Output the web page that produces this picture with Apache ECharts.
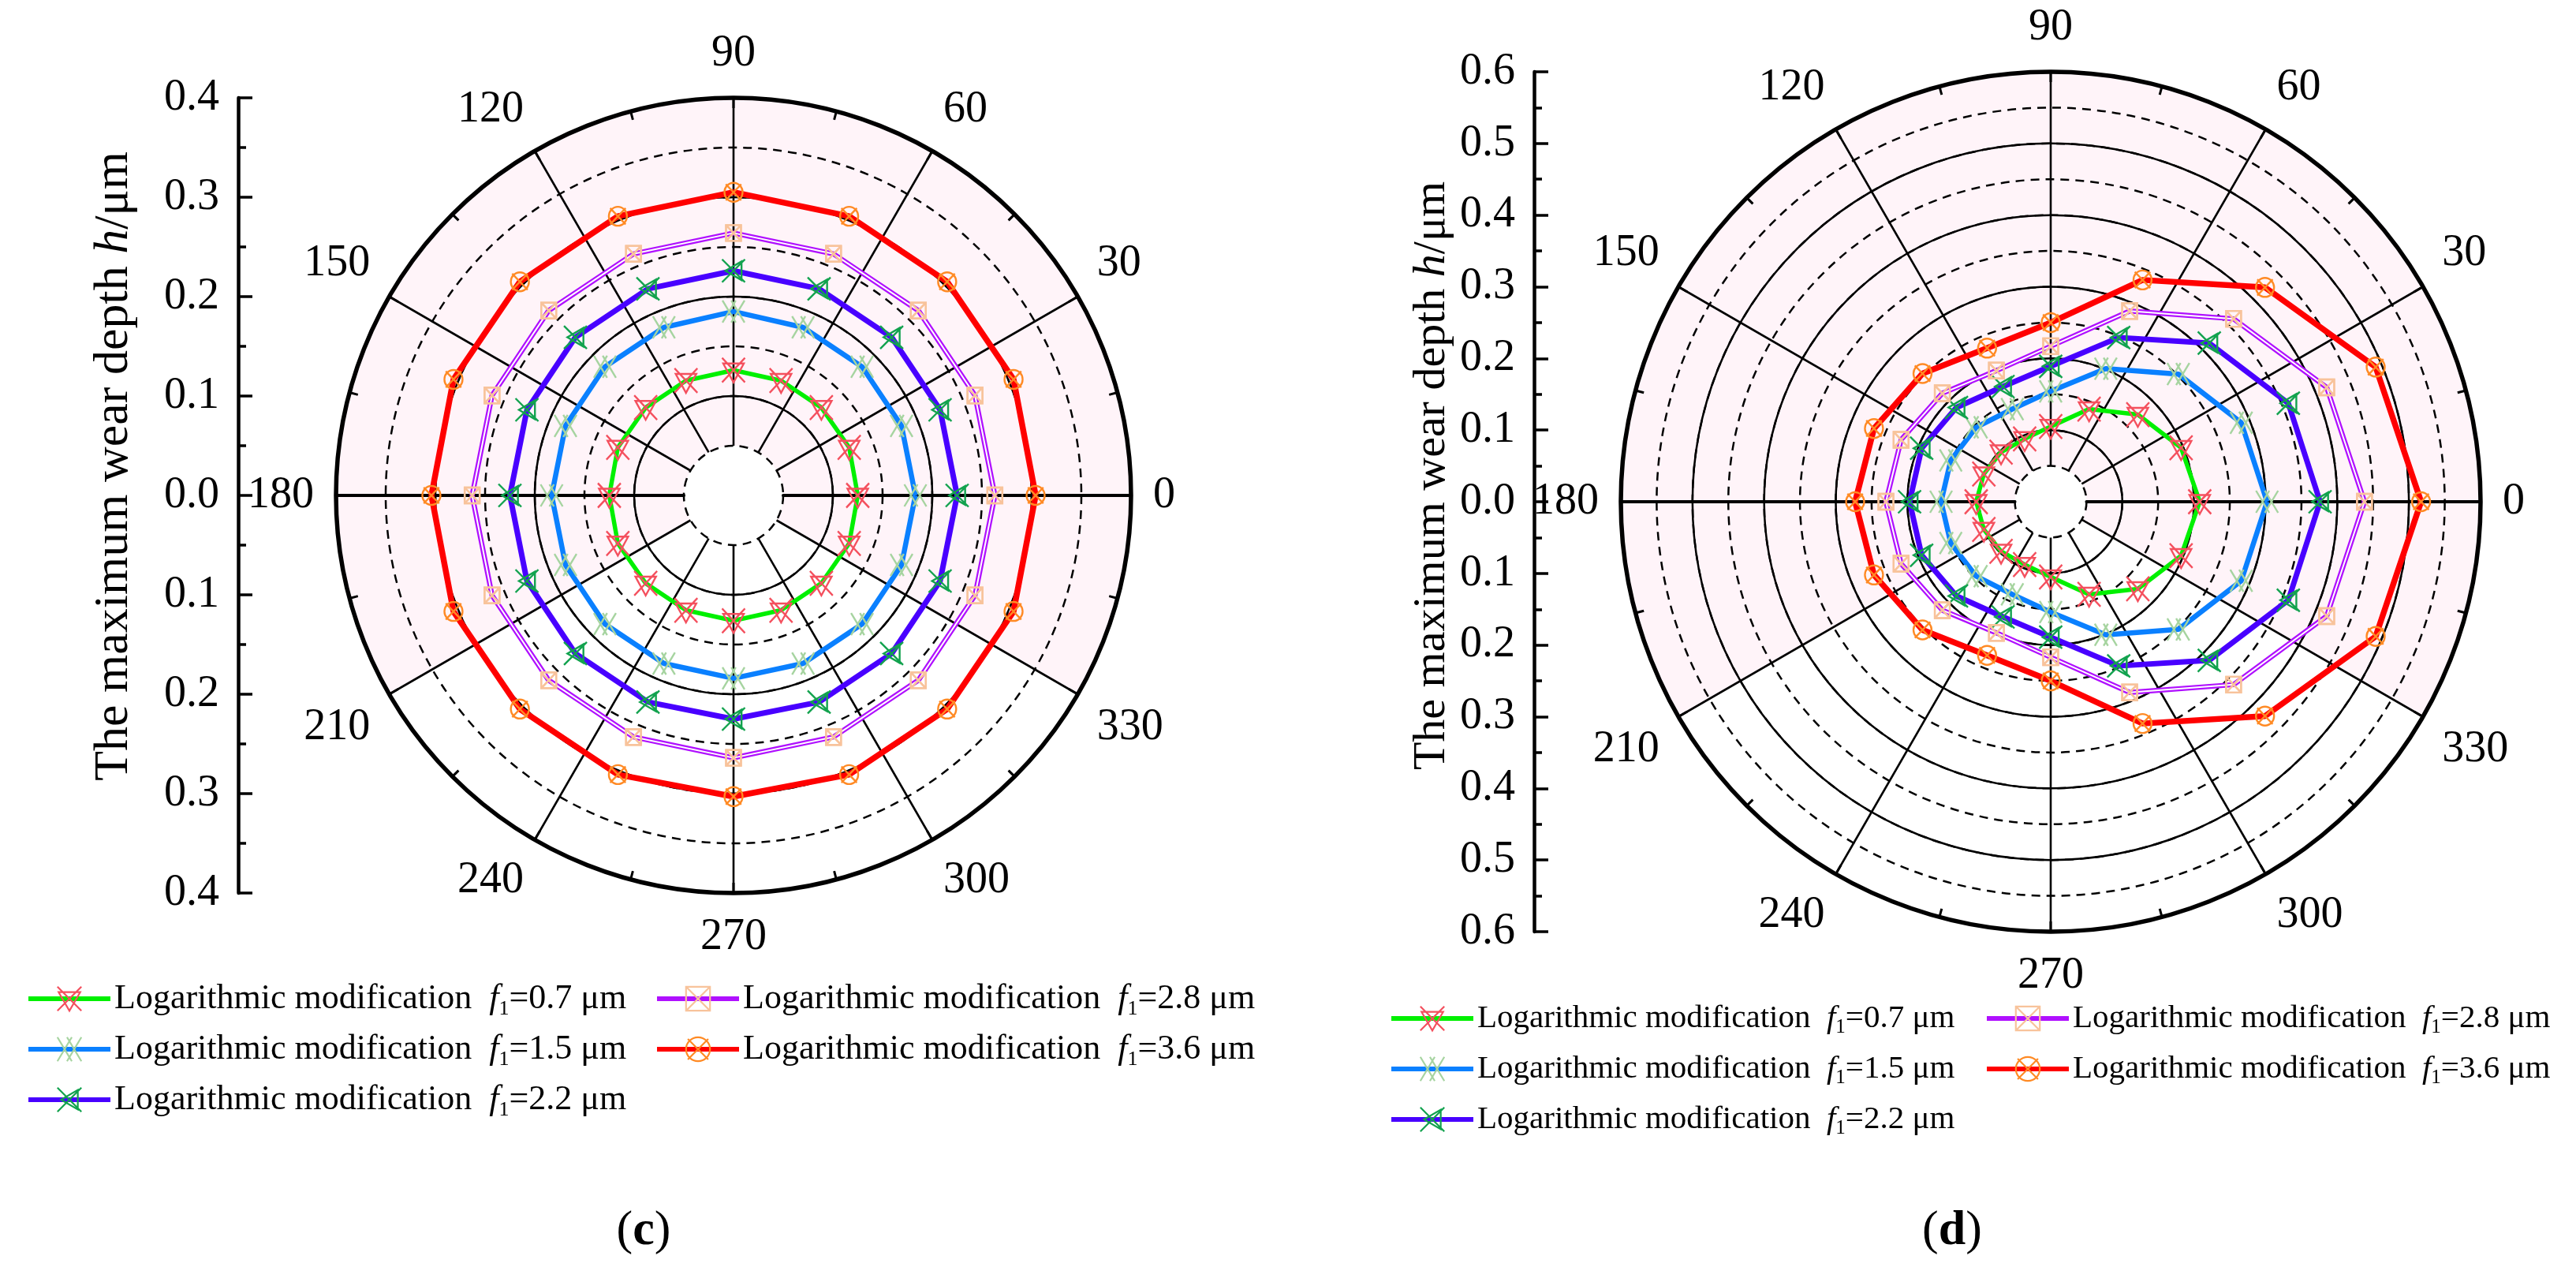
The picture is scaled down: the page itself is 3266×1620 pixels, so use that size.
<!DOCTYPE html>
<html>
<head>
<meta charset="utf-8">
<title>Maximum wear depth - polar</title>
<script src="https://cdn.jsdelivr.net/npm/echarts@6/dist/echarts.min.js"></script>
<style>
  html, body { margin: 0; padding: 0; background: #fff; }
  #main { width: 3266px; height: 1620px; }
</style>
</head>
<body>
<div id="main"></div>
<script>
var SERIF = '"Liberation Serif", "Times New Roman", serif';

// measuring angle of every point, degrees
var angles = [0, 22.5, 45, 67.5, 90, 112.5, 135, 157.5, 180, 202.5, 225, 247.5, 270, 292.5, 315, 337.5];

// legend / series names
var names = [
  'Logarithmic modification f1=0.7 μm',
  'Logarithmic modification f1=1.5 μm',
  'Logarithmic modification f1=2.2 μm',
  'Logarithmic modification f1=2.8 μm',
  'Logarithmic modification f1=3.6 μm'
];

// (c) maximum wear depth h (μm)
var depthC07 = [0.125, 0.126, 0.125, 0.125, 0.126, 0.125, 0.125, 0.126, 0.125, 0.126, 0.125, 0.125, 0.126, 0.125, 0.125, 0.126];
var depthC15 = [0.183, 0.183, 0.183, 0.183, 0.185, 0.183, 0.183, 0.183, 0.183, 0.183, 0.183, 0.183, 0.184, 0.183, 0.183, 0.183];
var depthC22 = [0.225, 0.225, 0.225, 0.225, 0.226, 0.225, 0.225, 0.225, 0.225, 0.225, 0.225, 0.225, 0.225, 0.225, 0.225, 0.225];
var depthC28 = [0.263, 0.263, 0.263, 0.263, 0.264, 0.263, 0.263, 0.263, 0.263, 0.263, 0.263, 0.263, 0.264, 0.263, 0.263, 0.263];
var depthC36 = [0.304, 0.305, 0.304, 0.304, 0.305, 0.304, 0.304, 0.305, 0.304, 0.305, 0.304, 0.304, 0.303, 0.304, 0.304, 0.305];

// (d) maximum wear depth h (μm)
var depthD07 = [0.208, 0.197, 0.172, 0.140, 0.105, 0.095, 0.098, 0.101, 0.104, 0.101, 0.098, 0.095, 0.105, 0.140, 0.172, 0.197];
var depthD15 = [0.302, 0.288, 0.252, 0.201, 0.154, 0.140, 0.147, 0.151, 0.153, 0.151, 0.147, 0.140, 0.154, 0.201, 0.252, 0.288];
var depthD22 = [0.376, 0.359, 0.313, 0.248, 0.189, 0.174, 0.186, 0.195, 0.197, 0.195, 0.186, 0.174, 0.189, 0.248, 0.313, 0.359];
var depthD28 = [0.438, 0.417, 0.361, 0.288, 0.217, 0.198, 0.214, 0.226, 0.230, 0.226, 0.214, 0.198, 0.217, 0.288, 0.361, 0.417];
var depthD36 = [0.517, 0.491, 0.423, 0.335, 0.250, 0.232, 0.253, 0.267, 0.273, 0.267, 0.253, 0.232, 0.250, 0.335, 0.423, 0.491];

// marker outlines
var SYM_TRI_X = 'path://M0,0L20,22M20,0L0,22M1,5L19,5L10,22Z';
var SYM_DOUBLE_X = 'path://M0,0L12,20M12,0L0,20M8,0L20,20M20,0L8,20';
var SYM_X_LTRI = 'path://M0,0L20,22M20,0L0,22M17,2L17,20L3,11Z';
var SYM_BOX_X = 'path://M0,0L20,0L20,20L0,20ZM0,0L20,20M20,0L0,20';
var SYM_CIRCLE_X = 'path://M10,0A10,10,0,1,1,10,20A10,10,0,1,1,10,0ZM1.5,1.5L18.5,18.5M18.5,1.5L1.5,18.5';

var seriesStyle = [
  { line: '#00f000', width: 5.5, mark: '#f4505e', symbol: SYM_TRI_X, size: [29, 31] },
  { line: '#0a80ff', width: 6.5, mark: '#a6d4a0', symbol: SYM_DOUBLE_X, size: [28, 28] },
  { line: '#4800ff', width: 7, mark: '#12a24e', symbol: SYM_X_LTRI, size: [29, 29] },
  { line: '#b010ff', width: 6.5, mark: '#f8c39b', symbol: SYM_BOX_X, size: [19, 20], hollow: true },
  { line: '#ff0000', width: 7.5, mark: '#ff8a24', symbol: SYM_CIRCLE_X, size: [23, 24] }
];

// upper sectors tinted, 210..330 left white
var sectorFill = ['#fff4f9', '#fff4f9', '#fff4f9', '#fff4f9', '#fff4f9', '#fff4f9', '#fff4f9',
                  '#ffffff', '#ffffff', '#ffffff', '#ffffff', '#fff4f9'];

var panels = [
  { center: [930, 628], R: 504, max: 0.4, axisX: 302, nameGap: 126, nameFont: 62, namePad: 74,
    legendTop: 1235, legendX: [28, 825], legendFont: 44, sets: [depthC07, depthC15, depthC22, depthC28, depthC36],
    tag: 'c', tagX: 816 },
  { center: [2600, 636], R: 545, max: 0.6, axisX: 1945, nameGap: 100, nameFont: 58, namePad: 66,
    legendTop: 1262, legendX: [1756, 2511], legendFont: 41, sets: [depthD07, depthD15, depthD22, depthD28, depthD36],
    tag: 'd', tagX: 2475 }
];

function closedRing(values) {
  var pts = values.map(function (v, i) { return [v, angles[i]]; });
  pts.push({ value: [values[0], 360], symbol: 'none' });
  return pts;
}

var option = {
  backgroundColor: '#fff',
  animation: false,
  polar: [], angleAxis: [], radiusAxis: [],
  grid: [], xAxis: [], yAxis: [],
  legend: [], series: [], graphic: []
};

panels.forEach(function (p, k) {
  var base = k * 5;
  var holeR = p.R * 0.05 / p.max;
  var black = '#000';

  option.polar.push(
    { center: p.center, radius: [0, p.R] },      // data
    { center: p.center, radius: [holeR, p.R] },  // spokes, dashed rings, labels
    { center: p.center, radius: [0, p.R] },      // solid rings, rim
    { center: p.center, radius: [holeR, p.R] },  // 180 deg axis line
    { center: p.center, radius: [holeR, p.R] }   // sector tint
  );

  option.angleAxis.push(
    { polarIndex: base, type: 'value', min: 0, max: 360, startAngle: 0, clockwise: false, show: false },
    { polarIndex: base + 1, type: 'value', min: 0, max: 360, interval: 30, startAngle: 0, clockwise: false, z: 1,
      axisLine: { show: false },
      axisTick: { show: true, inside: true, length: 13, lineStyle: { color: black, width: 3 } },
      minorTick: { show: true, splitNumber: 2, length: 11, lineStyle: { color: black, width: 3 } },
      axisLabel: { show: true, margin: 28, color: black, fontFamily: SERIF, fontSize: 56,
        formatter: function (v) { return v === 360 ? '' : String(v); } },
      splitLine: { show: true, lineStyle: { color: black, width: 2.6 } } },
    { polarIndex: base + 2, type: 'value', min: 0, max: 360, interval: 30, startAngle: 0, clockwise: false, z: 1,
      axisLine: { show: true, lineStyle: { color: black, width: 5.5 } },
      axisTick: { show: false }, axisLabel: { show: false }, splitLine: { show: false } },
    { polarIndex: base + 3, type: 'value', min: 0, max: 360, startAngle: 180, clockwise: false, show: false },
    { polarIndex: base + 4, type: 'value', min: 0, max: 360, interval: 30, startAngle: 0, clockwise: false, z: 0,
      axisLine: { show: false }, axisTick: { show: false }, axisLabel: { show: false }, splitLine: { show: false },
      splitArea: { show: true, areaStyle: { color: sectorFill } } }
  );

  option.radiusAxis.push(
    { polarIndex: base, type: 'value', min: 0, max: p.max, show: false },
    { polarIndex: base + 1, type: 'value', min: 0.05, max: p.max, interval: 0.05, z: 1,
      axisLine: { show: true, lineStyle: { color: black, width: 4 } },
      axisTick: { show: false }, axisLabel: { show: false },
      splitLine: { show: true, lineStyle: { color: black, width: 2.5, type: [11, 8] } } },
    { polarIndex: base + 2, type: 'value', min: 0, max: p.max, interval: 0.1, z: 1,
      axisLine: { show: false }, axisTick: { show: false }, axisLabel: { show: false },
      splitLine: { show: true, lineStyle: { color: black, width: 2.5 } } },
    { polarIndex: base + 3, type: 'value', min: 0.05, max: p.max, z: 1,
      axisLine: { show: true, lineStyle: { color: black, width: 4 } },
      axisTick: { show: false }, axisLabel: { show: false }, splitLine: { show: false } },
    { polarIndex: base + 4, type: 'value', min: 0.05, max: p.max, show: false }
  );

  // mirrored radial scale on the left
  option.grid.push({ left: p.axisX, top: p.center[1] - p.R, width: 1, height: 2 * p.R });
  option.xAxis.push({ gridIndex: k, type: 'value', show: false });
  option.yAxis.push({
    gridIndex: k, type: 'value', min: -p.max, max: p.max, interval: 0.1,
    axisLine: { show: true, lineStyle: { color: black, width: 4.5 } },
    axisTick: { show: true, inside: true, length: 18, lineStyle: { color: black, width: 3.5 } },
    minorTick: { show: true, splitNumber: 2, length: 10, lineStyle: { color: black, width: 3.5 } },
    splitLine: { show: false },
    axisLabel: { margin: 24, color: black, fontFamily: SERIF, fontSize: 56,
      formatter: function (v) { return Math.abs(v).toFixed(1); } },
    name: 'The maximum wear depth {i|h}/μm',
    nameLocation: 'middle', nameGap: p.nameGap, nameRotate: 90,
    nameTextStyle: { color: black, fontFamily: SERIF, fontSize: p.nameFont, padding: [0, 0, 0, p.namePad],
      rich: { i: { fontStyle: 'italic', fontFamily: SERIF, fontSize: p.nameFont, color: black } } }
  });

  // series
  p.sets.forEach(function (values, j) {
    var s = seriesStyle[j];
    var common = { type: 'line', name: names[j], coordinateSystem: 'polar', polarIndex: base,
      data: closedRing(values), silent: true, z: 3, emphasis: { disabled: true } };
    option.series.push(Object.assign({}, common, {
      symbol: s.symbol, symbolSize: s.size,
      lineStyle: { color: s.line, width: s.width },
      itemStyle: { color: 'rgba(0,0,0,0)', borderColor: s.mark, borderWidth: 2.4 }
    }));
    if (s.hollow) {
      option.series.push(Object.assign({}, common, {
        symbol: 'none', lineStyle: { color: '#fff', width: 2 }
      }));
      option.series.push(Object.assign({}, common, {
        symbol: s.symbol, symbolSize: s.size,
        lineStyle: { width: 0, opacity: 0 },
        itemStyle: { color: 'rgba(0,0,0,0)', borderColor: s.mark, borderWidth: 2.4 }
      }));
    }
  });

  // legend, two columns
  var fs = p.legendFont;
  var lh = Math.round(fs * 1.18);
  var legendText = {
    color: black, fontFamily: SERIF, fontSize: fs, lineHeight: lh,
    rich: {
      i: { fontStyle: 'italic', fontFamily: SERIF, fontSize: fs, lineHeight: lh, color: black },
      s: { fontFamily: SERIF, fontSize: Math.round(fs * 0.6), lineHeight: Math.round(fs * 0.45), verticalAlign: 'bottom', color: black }
    }
  };
  [[0, 1, 2], [3, 4]].forEach(function (cols, c) {
    option.legend.push({
      orient: 'vertical', left: p.legendX[c], top: p.legendTop,
      itemWidth: 104, itemHeight: 38, itemGap: 64 - lh, selectedMode: false,
      data: cols.map(function (j) { return names[j]; }),
      lineStyle: { width: 6 }, itemStyle: { borderWidth: 2.2 },
      formatter: function (name) { return name.replace('f1', ' {i|f}{s|1}'); },
      textStyle: legendText
    });
  });

  option.graphic.push({
    type: 'text', x: p.tagX, y: 1561, silent: true,
    style: { text: '({b|' + p.tag + '})', fill: black, font: '62px ' + SERIF,
      align: 'center', verticalAlign: 'middle',
      rich: { b: { fontWeight: 'bold', fontFamily: SERIF, fontSize: 62, fill: black } } }
  });
});

var chart = echarts.init(document.getElementById('main'));
chart.setOption(option);
</script>
</body>
</html>
